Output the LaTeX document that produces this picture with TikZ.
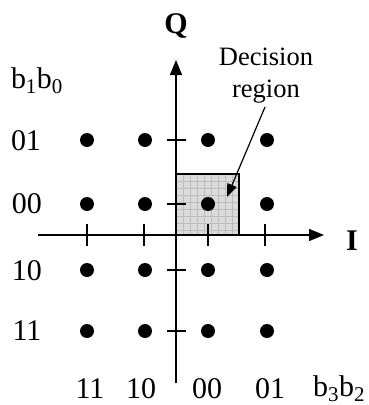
\documentclass[tikz,border=0pt]{standalone}
\usepackage{fontspec}
\setmainfont{Liberation Serif}
\usetikzlibrary{arrows.meta}
\begin{document}
\begin{tikzpicture}[x=1pt,y=-1pt,
  lbl/.style={font=\fontsize{30}{32}\selectfont, inner sep=0pt},
  axis/.style={line width=1.4pt, -{Triangle[length=15pt,width=12pt]}},
  tick/.style={line width=1.2pt},
  dot/.style={circle, fill=black, inner sep=0pt, minimum size=14pt}]
\useasboundingbox (0,0) rectangle (368,405);
% decision region
\fill[black!14] (176,174) rectangle (239,235);
\begin{scope}
\clip (176,174) rectangle (239,235);
\foreach \k in {0,...,9} {
  \draw[black!26, line width=0.5pt] (176+7*\k,174) -- (176+7*\k,235);
  \draw[black!26, line width=0.5pt] (176,174+7*\k) -- (239,174+7*\k);
}
\end{scope}
\draw[line width=1.2pt] (176,235) -- (176,174) -- (239,174) -- (239,235);
% axes
\coordinate (xs) at (38,235);
\coordinate (xe) at (324,235);
\coordinate (ys) at (176,383);
\coordinate (ye) at (176,60);
\draw[axis] (xs) -- (xe);
\draw[axis] (ys) -- (ye);
% ticks
\foreach \x in {87,144,208,265} \draw[tick] (\x,224) -- (\x,246);
\foreach \y in {140,204,270,331} \draw[tick] (167,\y) -- (186,\y);
% dots
\foreach \x [count=\i] in {87,145,208,267}
  \foreach \y [count=\j] in {140,204,270,331}
    \node[dot] (d\i\j) at (\x,\y) {};
% labels
\node[font=\fontsize{30}{32}\selectfont\bfseries, anchor=base] (Q) at (176,33) {Q};
\node[font=\fontsize{30}{32}\selectfont\bfseries, anchor=base] (I) at (352,250) {I};
\node[lbl, anchor=base] (b10) at (37,88) {b\textsubscript{1}b\textsubscript{0}};
\node[lbl, anchor=base] (r1) at (26,150) {01};
\node[lbl, anchor=base] (r2) at (27,213) {00};
\node[lbl, anchor=base] (r3) at (27,280) {10};
\node[lbl, anchor=base] (r4) at (27,340) {11};
\node[lbl, anchor=base] (c1) at (90,398) {11};
\node[lbl, anchor=base] (c2) at (141,398) {10};
\node[lbl, anchor=base] (c3) at (207,398) {00};
\node[lbl, anchor=base] (c4) at (270,398) {01};
\node[lbl, anchor=base] (b32) at (339,396) {b\textsubscript{3}b\textsubscript{2}};
\node[font=\fontsize{26.5}{32}\selectfont, align=center, inner sep=0pt, anchor=base] (dr) at (266,97) {Decision\\region};
\coordinate (tip) at (227,197);
\draw[line width=1.2pt, -{Triangle[length=13pt,width=10pt]}] (265,107) -- (tip);
\end{tikzpicture}
\end{document}
